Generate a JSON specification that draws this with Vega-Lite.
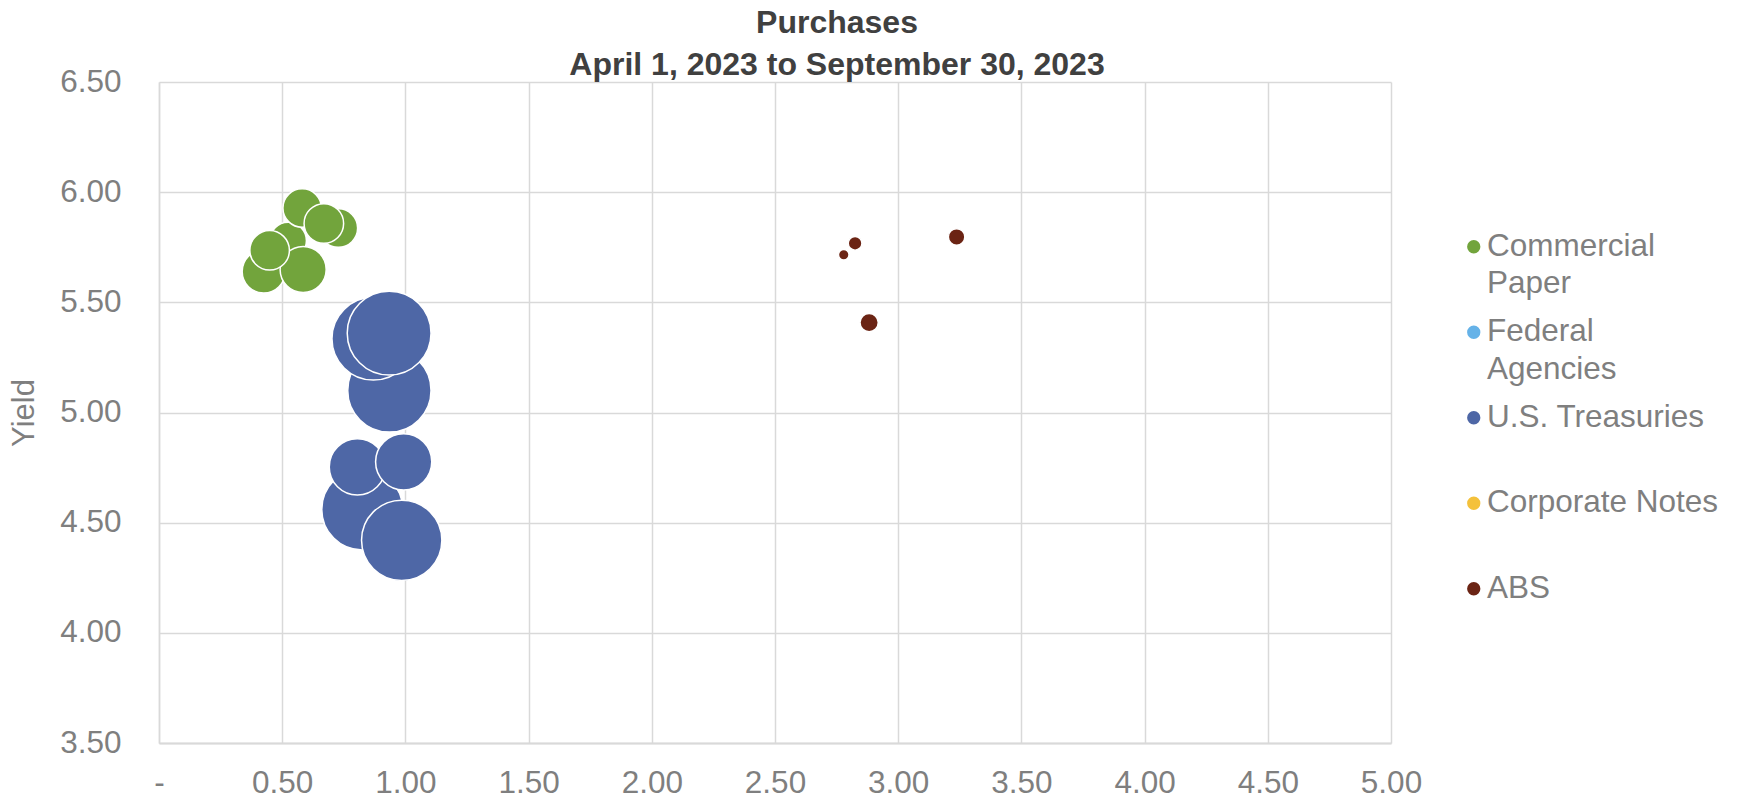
{
  "$schema": "https://vega.github.io/schema/vega-lite/v6.json",
  "width": 1232,
  "height": 661,
  "autosize": {"type": "none"},
  "padding": {"left": 159, "top": 82, "right": 348, "bottom": 52},
  "background": "white",
  "config": {
    "font": "Liberation Sans",
    "view": {"stroke": null},
    "style": {"guide-label": {"lineHeight": 37.7}},
    "axis": {
      "labelFont": "Liberation Sans",
      "labelFontSize": 31.5,
      "labelColor": "#7f7f7f",
      "gridColor": "#d9d9d9",
      "gridWidth": 1.5,
      "domainColor": "#d9d9d9",
      "ticks": false
    }
  },
  "title": {
    "text": ["Purchases", "April 1, 2023 to September 30, 2023"],
    "font": "Liberation Sans",
    "fontSize": 32,
    "fontWeight": "bold",
    "color": "#404040",
    "lineHeight": 42,
    "anchor": "middle",
    "baseline": "alphabetic",
    "dx": 62,
    "offset": -41
  },
  "data": {
    "values": [
      {"sector": "Commercial Paper", "duration": 0.425, "yield": 5.64, "amount": 13.3},
      {"sector": "Commercial Paper", "duration": 0.524, "yield": 5.78, "amount": 9.6},
      {"sector": "Commercial Paper", "duration": 0.585, "yield": 5.649, "amount": 15.2},
      {"sector": "Commercial Paper", "duration": 0.449, "yield": 5.736, "amount": 11.2},
      {"sector": "Commercial Paper", "duration": 0.728, "yield": 5.837, "amount": 10.6},
      {"sector": "Commercial Paper", "duration": 0.581, "yield": 5.928, "amount": 10.6},
      {"sector": "Commercial Paper", "duration": 0.669, "yield": 5.858, "amount": 11.2},
      {"sector": "U.S. Treasuries", "duration": 0.825, "yield": 4.56, "amount": 47.0},
      {"sector": "U.S. Treasuries", "duration": 0.985, "yield": 4.42, "amount": 46.2},
      {"sector": "U.S. Treasuries", "duration": 0.935, "yield": 5.1, "amount": 49.7},
      {"sector": "U.S. Treasuries", "duration": 0.87, "yield": 5.335, "amount": 49.1},
      {"sector": "U.S. Treasuries", "duration": 0.805, "yield": 4.753, "amount": 22.6},
      {"sector": "U.S. Treasuries", "duration": 0.993, "yield": 4.776, "amount": 22.6},
      {"sector": "U.S. Treasuries", "duration": 0.934, "yield": 5.36, "amount": 50.3},
      {"sector": "ABS", "duration": 2.779, "yield": 5.716, "amount": 0.8},
      {"sector": "ABS", "duration": 2.825, "yield": 5.768, "amount": 1.35},
      {"sector": "ABS", "duration": 3.237, "yield": 5.797, "amount": 1.95},
      {"sector": "ABS", "duration": 2.882, "yield": 5.408, "amount": 2.4}
    ]
  },
  "mark": {"type": "circle", "opacity": 1, "stroke": "white", "strokeWidth": 1.5},
  "encoding": {
    "x": {
      "field": "duration",
      "type": "quantitative",
      "scale": {"domain": [0, 5], "nice": false, "zero": false},
      "axis": {
        "title": null,
        "values": [0, 0.5, 1, 1.5, 2, 2.5, 3, 3.5, 4, 4.5, 5],
        "labelExpr": "datum.value == 0 ? '-' : format(datum.value, '.2f')",
        "labelFlush": false,
        "labelPadding": 24,
        "domainWidth": 2
      }
    },
    "y": {
      "field": "yield",
      "type": "quantitative",
      "scale": {"domain": [3.5, 6.5], "nice": false, "zero": false},
      "axis": {
        "title": "Yield",
        "titleFont": "Liberation Sans",
        "titleFontSize": 31,
        "titleFontWeight": "normal",
        "titleColor": "#7f7f7f",
        "titleAngle": -90,
        "titleAlign": "center",
        "titleBaseline": "middle",
        "titleX": -135,
        "titleY": 330.5,
        "values": [3.5, 4, 4.5, 5, 5.5, 6, 6.5],
        "format": ".2f",
        "labelFlush": false,
        "labelPadding": 38,
        "domainWidth": 1.5
      }
    },
    "size": {
      "field": "amount",
      "type": "quantitative",
      "scale": {"type": "linear", "domain": [0, 50], "range": [0, 6981]},
      "legend": null
    },
    "color": {
      "field": "sector",
      "type": "nominal",
      "scale": {
        "domain": ["Commercial Paper", "Federal Agencies", "U.S. Treasuries", "Corporate Notes", "ABS"],
        "range": ["#72a43c", "#65b2e8", "#4e67a6", "#f4c13b", "#6b2414"]
      },
      "legend": {
        "title": null,
        "orient": "none",
        "legendX": 1299,
        "legendY": 149,
        "direction": "vertical",
        "padding": 0,
        "symbolType": "circle",
        "symbolSize": 177,
        "symbolStrokeWidth": 0,
        "symbolOpacity": 1,
        "labelFont": "Liberation Sans",
        "labelFontSize": 31.5,
        "labelColor": "#7f7f7f",
        "labelOffset": -2.5,
        "labelLimit": 0,
        "labelBaseline": "middle",
        "rowPadding": 15.5,
        "labelExpr": "datum.label == 'Commercial Paper' ? ['Commercial', 'Paper'] : datum.label == 'Federal Agencies' ? ['Federal', 'Agencies'] : [datum.label, ' ']",
        "encode": {
          "labels": {
            "update": {"lineHeight": {"value": 37.7}, "dy": {"value": 18.85}}
          }
        }
      }
    }
  }
}
